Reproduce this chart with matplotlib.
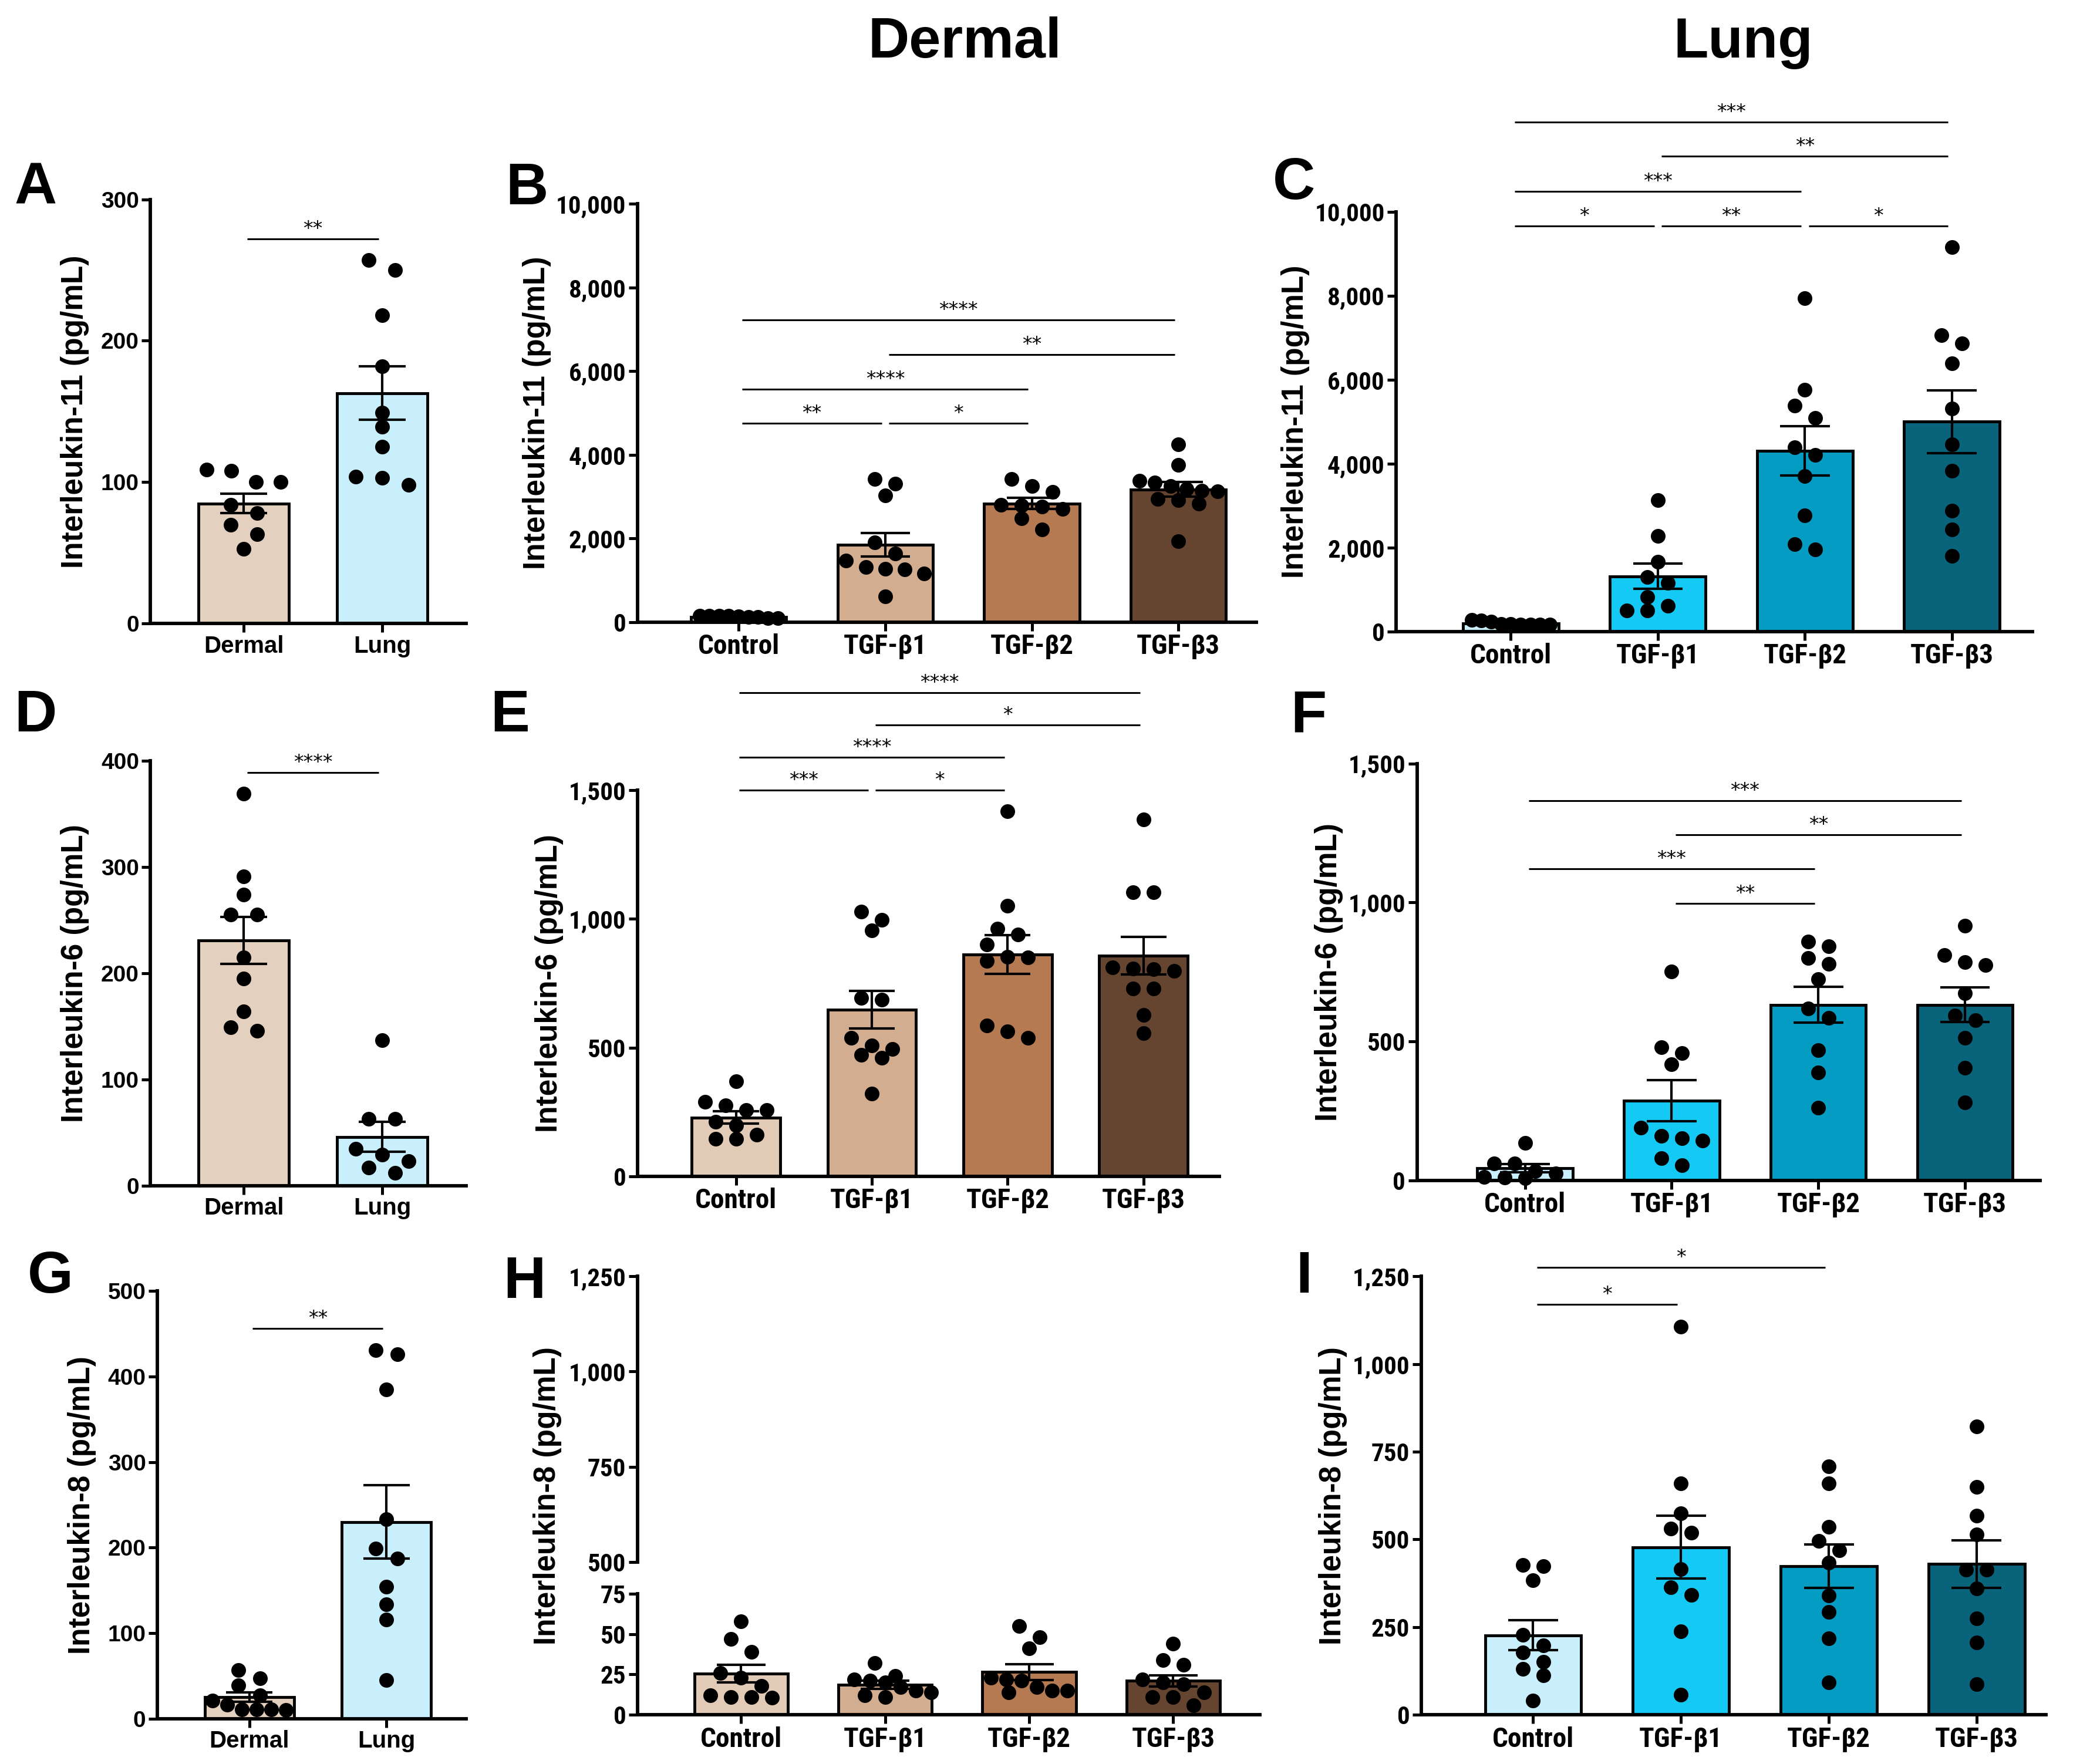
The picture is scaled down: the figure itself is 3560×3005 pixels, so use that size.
import numpy as np
import matplotlib
matplotlib.use('Agg')
import matplotlib.pyplot as plt
from matplotlib import font_manager as fm
from matplotlib.ticker import FuncFormatter, FixedLocator

# ---------------- data ----------------
two_groups = ['Dermal', 'Lung']
tgf_groups = ['Control', 'TGF-β1', 'TGF-β2', 'TGF-β3']

# A: IL-11, dermal vs lung fibroblasts
A_mean = [85, 163]
A_sem = [7, 19]
A_pts = [[108, 109, 100, 100, 84, 78, 70, 63, 53],
         [250, 257, 218, 182, 149, 139, 125, 98, 104, 103]]
A_sig = [(0, 1, 272, '**')]

# B: IL-11, dermal, TGF-beta isoforms
B_mean = [125, 1848, 2838, 3175]
B_sem = [10, 280, 130, 175]
B_pts = [[100, 150, 150, 150, 90, 150, 130, 140, 130],
         [3416, 3315, 3028, 1902, 1646, 1320, 1258, 1281, 1475, 1165, 621],
         [3120, 3260, 3420, 2700, 2800, 2790, 2760, 2480, 2210],
         [4255, 3766, 3377, 3261, 3339, 3183, 3121, 3144, 2950, 2911, 2834, 1941]]
B_sig = [(0, 3, 7220, '****'), (1, 3, 6405, '**'), (0, 2, 5575, '****'),
         (0, 1, 4752, '**'), (1, 2, 4752, '*')]

# C: IL-11, lung, TGF-beta isoforms
C_mean = [190, 1316, 4303, 4996]
C_sem = [20, 303, 585, 750]
C_pts = [[180, 260, 270, 170, 230, 160, 170, 180, 170],
         [3134, 2277, 1662, 1299, 1152, 823, 502, 502, 606],
         [7939, 5758, 5385, 5091, 4390, 4199, 3697, 2771, 2078, 1948],
         [9152, 7056, 6857, 6381, 5307, 4459, 3827, 2874, 2424, 1801]]
C_sig = [(0, 3, 12139, '***'), (1, 3, 11316, '**'), (0, 2, 10485, '***'),
         (0, 1, 9662, '*'), (1, 2, 9662, '**'), (2, 3, 9662, '*')]

# D: IL-6, dermal vs lung
D_mean = [231, 46]
D_sem = [22, 14]
D_pts = [[369, 291, 274, 255, 255, 215, 195, 164, 146, 149],
         [137, 63, 63, 35, 29, 23, 17, 12]]
D_sig = [(0, 1, 389, '****')]

# E: IL-6, dermal, TGF-beta isoforms
E_mean = [229, 648, 862, 858]
E_sem = [24, 73, 76, 73]
E_pts = [[369, 258, 275, 289, 258, 199, 213, 162, 145, 145],
         [1027, 996, 954, 687, 694, 509, 538, 495, 471, 461, 322],
         [1418, 1050, 961, 939, 901, 850, 853, 836, 585, 563, 538],
         [1386, 1103, 1103, 807, 797, 805, 812, 729, 729, 627, 556]]
E_sig = [(0, 3, 1879, '****'), (1, 3, 1754, '*'), (0, 2, 1628, '****'),
         (0, 1, 1500, '***'), (1, 2, 1500, '*')]

# F: IL-6, lung, TGF-beta isoforms
F_mean = [44, 287, 632, 632]
F_sem = [14, 73, 65, 63]
F_pts = [[135, 61, 61, 34, 26, 12, 10, 8],
         [751, 480, 459, 418, 190, 160, 144, 152, 81, 54],
         [859, 842, 780, 801, 724, 618, 584, 468, 389, 262],
         [917, 811, 774, 786, 674, 593, 577, 512, 406, 281]]
F_sig = [(0, 3, 1367, '***'), (1, 3, 1244, '**'), (0, 2, 1121, '***'),
         (1, 2, 996, '**')]

# G: IL-8, dermal vs lung
G_mean = [25, 230]
G_sem = [5.5, 43]
G_pts = [[57, 47, 39, 27, 21, 11, 11, 16, 10, 11],
         [431, 426, 385, 233, 199, 187, 154, 134, 116, 45]]
G_sig = [(0, 1, 456, '**')]

# H: IL-8, dermal, TGF-beta isoforms (broken axis)
H_mean = [25.5, 18.5, 26.5, 21]
H_sem = [5.5, 2.5, 5, 3.5]
H_pts = [[58, 47, 39, 26, 18, 11, 11, 12, 10.5, 23],
         [32, 24, 21, 20, 22, 15, 14, 11, 17, 12],
         [55, 48, 41, 23, 22, 21, 15, 17, 14, 15],
         [44, 31, 34, 20, 22, 19, 14, 11, 11, 6]]

# I: IL-8, lung, TGF-beta isoforms
I_mean = [227, 478, 424, 430]
I_sem = [43, 90, 62, 68]
I_pts = [[424, 427, 384, 228, 197, 177, 151, 131, 112, 41],
         [1107, 659, 575, 531, 520, 415, 364, 342, 238, 58],
         [709, 660, 536, 495, 469, 434, 340, 294, 218, 92],
         [823, 649, 568, 515, 413, 413, 361, 274, 206, 87]]
I_sig = [(0, 2, 1275, '*'), (0, 1, 1170, '*')]

# ---------------- style ----------------
dermal_vs_lung_colors = ['#E3D0BF', '#C8EFFB']
dermal_colors = ['#E2CBB6', '#D3AD90', '#B57A52', '#654530']
lung_colors = ['#C8EFFB', '#14C9F3', '#059CC3', '#08637B']

avail = {f.name for f in fm.fontManager.ttflist}
MAIN = 'Liberation Sans' if 'Liberation Sans' in avail else 'DejaVu Sans'
NARROW = next((f for f in ['Liberation Sans Narrow', 'Roboto Condensed', 'Arial Narrow']
               if f in avail), MAIN)
plt.rcParams['font.family'] = [MAIN, 'DejaVu Sans']

BW = 0.65          # bar width (data units)
MD = 25.0          # marker diameter in pixels
SPINE_LW = 4.2
BAR_LW = 3.5
ERR_LW = 3.0
SIG_LW = 2.2
NARROW_TICK = 31
NARROW_CAT = 34

fig = plt.figure(figsize=(35.6, 30.05), dpi=100)
fmt = FuncFormatter(lambda v, p: f'{int(round(v)):,}')


def swarm_offsets(ax, vals, step, maxw):
    vals = np.asarray(vals, float)
    ypx = ax.transData.transform(np.column_stack([np.zeros_like(vals), vals]))[:, 1]
    order = np.argsort(-vals, kind='stable')
    groups, cur = [], [order[0]]
    for idx in order[1:]:
        if ypx[cur[0]] - ypx[idx] < 0.9 * MD:
            cur.append(idx)
        else:
            groups.append(cur)
            cur = [idx]
    groups.append(cur)
    offs = np.zeros(len(vals))
    placed = []
    for g in groups:
        n = len(g)
        st = step if n == 1 else min(step, maxw / (n - 1))
        base = (np.arange(n) - (n - 1) / 2) * st
        cand = base
        for shift in [0, st / 2, -st / 2, st, -st]:
            cand = base + shift
            ok = True
            for j, cx in zip(g, cand):
                for (px, py) in placed:
                    if np.hypot(cx - px, ypx[j] - py) < 0.8 * MD:
                        ok = False
                        break
                if not ok:
                    break
            if ok:
                break
        for j, cx in zip(g, cand):
            offs[j] = cx
            placed.append((cx, ypx[j]))
    pxx = ax.transData.transform((1, 0))[0] - ax.transData.transform((0, 0))[0]
    return offs / pxx


def style_axes(ax, narrow, show_x=True):
    for s in ['top', 'right']:
        ax.spines[s].set_visible(False)
    ax.spines['left'].set_linewidth(SPINE_LW)
    ax.spines['bottom'].set_linewidth(SPINE_LW)
    ax.tick_params(axis='both', direction='out', length=11, width=3.6, pad=3)
    fam = [NARROW, 'DejaVu Sans'] if narrow else [MAIN, 'DejaVu Sans']
    size = NARROW_TICK if narrow else 28
    for lab in ax.get_yticklabels():
        lab.set_fontfamily(fam)
        lab.set_fontsize(size)
        lab.set_fontweight('bold')
    if not show_x:
        ax.spines['bottom'].set_visible(False)
        ax.tick_params(axis='x', bottom=False, labelbottom=False)


def draw_bars(ax, cats, means, sems, pts, colors, narrow, step_fac):
    x = np.arange(len(cats))
    ax.bar(x, means, width=BW, color=colors, edgecolor='black',
           linewidth=BAR_LW, zorder=2)
    cap = BW * 0.26
    for xi, m, s in zip(x, means, sems):
        ax.plot([xi, xi], [m - s, m + s], color='black', lw=ERR_LW, zorder=3,
                solid_capstyle='butt')
        for yy in (m - s, m + s):
            ax.plot([xi - cap, xi + cap], [yy, yy], color='black', lw=ERR_LW,
                    zorder=3, solid_capstyle='butt')
    pxx = ax.transData.transform((1, 0))[0] - ax.transData.transform((0, 0))[0]
    for xi, vals in zip(x, pts):
        off = swarm_offsets(ax, vals, step_fac * MD, BW * pxx * 0.82)
        ax.scatter(xi + off, vals, s=(MD * 72 / 100) ** 2, color='black',
                   linewidths=0, zorder=4, clip_on=False)
    ax.set_xticks(x)
    ax.set_xticklabels(cats)
    fam = [NARROW, 'DejaVu Sans'] if narrow else [MAIN, 'DejaVu Sans']
    for lab in ax.get_xticklabels():
        lab.set_fontfamily(fam)
        lab.set_fontsize(NARROW_CAT if narrow else 29)
        lab.set_fontweight('bold')


def draw_sig(ax, sig):
    for i, j, y, lab in sig:
        ax.plot([i + 0.025, j - 0.025], [y, y], color='black', lw=SIG_LW,
                clip_on=False, zorder=5, solid_capstyle='butt')
        ax.annotate(lab, xy=((i + j) / 2, y), xytext=(0, 0),
                    textcoords='offset points', ha='center', va='bottom',
                    fontsize=24, annotation_clip=False,
                    family=['DejaVu Sans'])


def panel(rect, xlim, ylim, yticks, cats, means, sems, pts, colors, sig,
          ylabel, narrow, step_fac, labelpad):
    ax = fig.add_axes(rect)
    ax.set_xlim(*xlim)
    ax.set_ylim(*ylim)
    ax.yaxis.set_major_locator(FixedLocator(yticks))
    ax.yaxis.set_major_formatter(fmt)
    draw_bars(ax, cats, means, sems, pts, colors, narrow, step_fac)
    draw_sig(ax, sig)
    style_axes(ax, narrow)
    ax.set_ylabel(ylabel, fontsize=37, fontweight='bold', labelpad=labelpad,
                  family=[MAIN, 'DejaVu Sans'])
    return ax


panel([0.072, 0.6465, 0.151, 0.2405], (-0.673, 1.606), (0, 300), [0, 100, 200, 300],
      two_groups, A_mean, A_sem, A_pts, dermal_vs_lung_colors, A_sig,
      'Interleukin-11 (pg/mL)', False, 1.8, 14)
panel([0.305, 0.6473, 0.296, 0.2371], (-0.69, 3.53), (0, 10000),
      [0, 2000, 4000, 6000, 8000, 10000],
      tgf_groups, B_mean, B_sem, B_pts, dermal_colors, B_sig,
      'Interleukin-11 (pg/mL)', True, 1.4, 6)
panel([0.668, 0.642, 0.3046, 0.238], (-0.78, 3.55), (0, 10000),
      [0, 2000, 4000, 6000, 8000, 10000],
      tgf_groups, C_mean, C_sem, C_pts, lung_colors, C_sig,
      'Interleukin-11 (pg/mL)', True, 1.4, 6)
panel([0.072, 0.3278, 0.151, 0.2409], (-0.673, 1.606), (0, 400), [0, 100, 200, 300, 400],
      two_groups, D_mean, D_sem, D_pts, dermal_vs_lung_colors, D_sig,
      'Interleukin-6 (pg/mL)', False, 1.8, 14)
panel([0.305, 0.3331, 0.2785, 0.219], (-0.725, 3.56), (0, 1500), [0, 500, 1000, 1500],
      tgf_groups, E_mean, E_sem, E_pts, dermal_colors, E_sig,
      'Interleukin-6 (pg/mL)', True, 1.4, 6)
panel([0.678, 0.3308, 0.298, 0.2364], (-0.736, 3.51), (0, 1500), [0, 500, 1000, 1500],
      tgf_groups, F_mean, F_sem, F_pts, lung_colors, F_sig,
      'Interleukin-6 (pg/mL)', True, 1.4, 6)
panel([0.0753, 0.0257, 0.1477, 0.2424], (-0.67, 1.58), (0, 500),
      [0, 100, 200, 300, 400, 500],
      two_groups, G_mean, G_sem, G_pts, dermal_vs_lung_colors, G_sig,
      'Interleukin-8 (pg/mL)', False, 1.5, 14)
panel([0.680, 0.0279, 0.299, 0.2485], (-0.757, 3.47), (0, 1250),
      [0, 250, 500, 750, 1000, 1250],
      tgf_groups, I_mean, I_sem, I_pts, lung_colors, I_sig,
      'Interleukin-8 (pg/mL)', True, 1.4, 6)

# H: broken y axis
axHt = fig.add_axes([0.305, 0.1146, 0.2977, 0.1618])
axHt.set_xlim(-0.72, 3.6)
axHt.set_ylim(500, 1250)
axHt.yaxis.set_major_locator(FixedLocator([500, 750, 1000, 1250]))
axHt.yaxis.set_major_formatter(fmt)
style_axes(axHt, True, show_x=False)
axHt.patch.set_alpha(0)

axHb = fig.add_axes([0.305, 0.0279, 0.2977, 0.0686])
axHb.set_xlim(-0.72, 3.6)
axHb.set_ylim(0, 75)
axHb.yaxis.set_major_locator(FixedLocator([0, 25, 50, 75]))
axHb.yaxis.set_major_formatter(fmt)
draw_bars(axHb, tgf_groups, H_mean, H_sem, H_pts, dermal_colors, True, 1.4)
style_axes(axHb, True)
fig.text(0.262, 0.152, 'Interleukin-8 (pg/mL)', rotation=90, ha='center',
         va='center', fontsize=37, fontweight='bold')

# titles and panel letters
fig.text(0.4617, 0.9758, 'Dermal', ha='center', va='center', fontsize=70,
         fontweight='bold')
fig.text(0.834, 0.9758, 'Lung', ha='center', va='center', fontsize=70,
         fontweight='bold')
letters = [('A', 0.017, 0.893), ('B', 0.252, 0.893), ('C', 0.619, 0.896),
           ('D', 0.017, 0.594), ('E', 0.244, 0.594), ('F', 0.626, 0.594),
           ('G', 0.024, 0.276), ('H', 0.251, 0.273), ('I', 0.624, 0.276)]
for t, lx, ly in letters:
    fig.text(lx, ly, t, ha='center', va='center', fontsize=72, fontweight='bold')

fig.savefig('out.png', dpi=100)
